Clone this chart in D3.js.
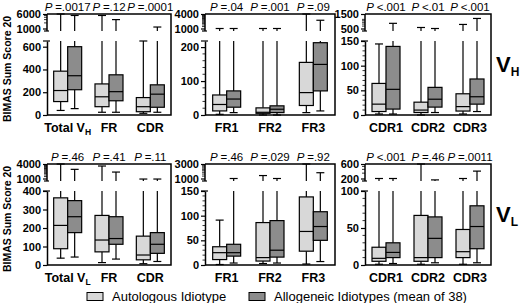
<!DOCTYPE html>
<html>
<head>
<meta charset="utf-8">
<script src="https://cdn.jsdelivr.net/npm/d3@7"></script>
<style>
body { margin: 0; background: #fff; }
svg { display: block; font-family: "Liberation Sans", Arial, sans-serif; }
</style>
</head>
<body>
<div id="chart"></div>
<script>
// categories, 3 per panel
const categories = ["Total", "FR", "CDR", "FR1", "FR2", "FR3", "CDR1", "CDR2", "CDR3"];

// box stats: [min, q1, median, q3, max]
const autoVH = [[40,118,215,385,6000],[24,73,160,273,5000],[15,29,73,153,650],
                [2,12,31,59,1000],[0,5,8,21,1000],[7,28,66,155,4000],
                [2,7,22,64,144],[0,5,10,26,540],[2,8,17,43,680]];
const alloVH = [[56,222,345,600,5000],[24,125,205,353,3000],[24,68,183,265,1200],
                [7,23,47,71,1000],[0,7,17,27,1000],[12,71,149,213,2200],
                [2,12,52,139,740],[5,16,32,56,500],[7,22,37,73,1070]];
const autoVL = [[37,88,214,363,4000],[13,71,135,268,3300],[7,28,54,156,950],
                [1,11,25,37,91],[3,8,15,86,1250],[2,28,68,138,3000],
                [1,5,9,24,200],[1,5,10,67,600],[1,10,18,48,200]];
const alloVL = [[43,175,261,348,2400],[32,112,143,261,1850],[19,63,112,175,950],
                [4,18,25,42,1000],[4,16,30,90,1000],[7,50,78,108,1550],
                [2,10,17,30,200],[3,10,36,65,180],[3,22,52,80,350]];

// P values
const pVH = ["=.0017", "=.12", "=.0001", "=.04", "=.001", "=.09", "<.001", "<.01", "<.001"];
const pVL = ["=.46", "=.41", "=.11", "=.46", "=.029", "=.92", "<.001", "=.46", "=.0011"];

// axis ticks per panel
const lowerTicksVH = [[0,200,400,600],[0,100,200],[0,50,100,150]];
const lowerTicksVL = [[0,100,200,300,400],[0,50,100,150],[0,50,100]];
const lowerMaxVH = [650, 218, 150];
const lowerMaxVL = [400, 150, 100];
const upperTicksVH = [[1000,6000],[1000,4000],[500,1500]];
const upperTicksVL = [[1000,4000],[1000,3000],[200,600]];
const minorStepVH = [0, 20, 10];
const minorStepVL = [0, 10, 10];

const width = 520, height = 303;
const lightFill = "#d8d8d8", darkFill = "#8c8c8c";

const svg = d3.select("#chart").append("svg")
    .attr("width", width)
    .attr("height", height);

const panelX = [[47,171],[205,335],[365,491]];

const rows = [
  {top: 14, auto: autoVH, allo: alloVH, p: pVH, lt: lowerTicksVH, lm: lowerMaxVH, ut: upperTicksVH, ms: minorStepVH, sub: "H"},
  {top: 164, auto: autoVL, allo: alloVL, p: pVL, lt: lowerTicksVL, lm: lowerMaxVL, ut: upperTicksVL, ms: minorStepVL, sub: "L"}
];

rows.forEach((row, r) => {
  const T0 = row.top,
      base = T0 + 101,
      lowTop = T0 + 27,
      upHi = T0,
      upLo = T0 + 14.5,
      upBottom = upLo + 2.5;

  // y axis title
  svg.append("text")
    .attr("transform", `translate(11,${T0 + 55}) rotate(-90)`)
    .attr("text-anchor", "middle")
    .attr("font-size", 10.5)
    .attr("font-weight", "bold")
    .text("BIMAS Sum Score 20");

  // V_H / V_L label
  let vl = svg.append("text")
    .attr("x", 496)
    .attr("y", T0 + 58)
    .attr("font-weight", "bold")
    .attr("font-size", 22);
  vl.append("tspan").text("V");
  vl.append("tspan").attr("font-size", 12).attr("dy", 4).text(row.sub);

  for (let p = 0; p < 3; p++) {
    const [x0, x1] = panelX[p];
    const cats = categories.slice(p * 3, p * 3 + 3);

    let x = d3.scaleBand().domain(cats).range([x0, x1]);
    let side = d3.scaleBand().domain(["auto", "allo"]).range([-14, 14]);

    let yLow = d3.scaleLinear()
      .domain([0, row.lm[p]])
      .range([base, lowTop]);
    let yUp = d3.scaleLog()
      .domain(row.ut[p])
      .range([upLo, upHi]);

    let g = svg.append("g");

    // frame: top, right, bottom
    g.append("path")
      .attr("d", `M${x0},${T0}H${x1}V${base}H${x0}`)
      .attr("fill", "none")
      .attr("stroke", "#000")
      .attr("stroke-width", 1.5);

    // lower axis
    let la = g.append("g")
      .attr("transform", `translate(${x0},0)`)
      .call(d3.axisLeft(yLow).tickValues(row.lt[p]).tickSize(4).tickSizeOuter(0).tickPadding(2));
    la.select(".domain").attr("stroke-width", 1.5);
    la.selectAll("text").attr("font-size", 11).attr("font-weight", "bold").attr("fill", "#000").attr("font-family", null);
    la.selectAll("line").attr("stroke-width", 1.2);
    // cap at top of lower segment
    g.append("line")
      .attr("x1", x0 - 4).attr("x2", x0 + 3)
      .attr("y1", lowTop).attr("y2", lowTop)
      .attr("stroke", "#000").attr("stroke-width", 1.2);
    if (row.ms[p]) {
      g.selectAll(".minor-low")
        .data(d3.range(0, row.lm[p], row.ms[p]).filter(v => !row.lt[p].includes(v)))
        .join("line")
        .attr("x1", x0 - 2.5).attr("x2", x0)
        .attr("y1", d => yLow(d)).attr("y2", d => yLow(d))
        .attr("stroke", "#000").attr("stroke-width", 0.8);
    }

    // upper (log) axis
    let ua = g.append("g")
      .attr("transform", `translate(${x0},0)`)
      .call(d3.axisLeft(yUp).tickValues(row.ut[p]).tickFormat(d3.format("d")).tickSize(4).tickSizeOuter(0).tickPadding(2));
    ua.select(".domain").remove();
    ua.selectAll("text").attr("font-size", 11).attr("font-weight", "bold").attr("fill", "#000").attr("font-family", null);
    ua.selectAll("line").attr("stroke-width", 1.2);
    g.append("line")
      .attr("x1", x0).attr("x2", x0)
      .attr("y1", T0).attr("y2", upBottom)
      .attr("stroke", "#000").attr("stroke-width", 1.5);
    g.append("line")
      .attr("x1", x0 - 3).attr("x2", x0 + 2)
      .attr("y1", upBottom).attr("y2", upBottom)
      .attr("stroke", "#000").attr("stroke-width", 1.2);
    g.selectAll(".minor-up")
      .data(yUp.ticks().filter(v => !row.ut[p].includes(v)))
      .join("line")
      .attr("x1", x0 - 3).attr("x2", x0)
      .attr("y1", d => yUp(d)).attr("y2", d => yUp(d))
      .attr("stroke", "#000").attr("stroke-width", 0.8);

    // boxes
    cats.forEach((c, i) => {
      const k = p * 3 + i;
      const cx = x(c) + x.bandwidth() / 2;
      [["auto", row.auto[k], lightFill], ["allo", row.allo[k], darkFill]].forEach(([s, v, fill]) => {
        const bx = cx + side(s), bw = side.bandwidth(), mx = bx + bw / 2;
        const [mn, q1, md, q3, mxv] = v;
        let w = g.append("g").attr("stroke", "#000").attr("stroke-width", 1.2);

        // lower whisker
        w.append("line").attr("x1", mx).attr("x2", mx).attr("y1", yLow(q1)).attr("y2", yLow(mn));
        w.append("line").attr("x1", mx - 4).attr("x2", mx + 4).attr("y1", yLow(mn)).attr("y2", yLow(mn));

        // upper whisker
        let capY;
        if (mxv <= row.lm[p]) {
          capY = yLow(mxv);
          w.append("line").attr("x1", mx).attr("x2", mx).attr("y1", yLow(q3)).attr("y2", capY);
        } else {
          w.append("line").attr("x1", mx).attr("x2", mx).attr("y1", yLow(q3)).attr("y2", lowTop);
          capY = Math.min(yUp(Math.max(mxv, row.ut[p][0] * 0.9)), upBottom);
          w.append("line").attr("x1", mx).attr("x2", mx).attr("y1", upBottom).attr("y2", capY);
        }
        w.append("line").attr("x1", mx - 4).attr("x2", mx + 4).attr("y1", capY).attr("y2", capY);

        // box
        w.append("rect")
          .attr("x", bx).attr("width", bw)
          .attr("y", yLow(q3)).attr("height", yLow(q1) - yLow(q3))
          .attr("fill", fill);
        w.append("line").attr("x1", bx).attr("x2", bx + bw).attr("y1", yLow(md)).attr("y2", yLow(md));
      });

      // P value
      let pt = svg.append("text")
        .attr("x", cx)
        .attr("y", T0 - 3.5)
        .attr("text-anchor", "middle")
        .attr("font-size", 11.5);
      pt.append("tspan").attr("font-style", "italic").text("P ");
      pt.append("tspan").text(row.p[k]);

      // category label
      let ct = svg.append("text")
        .attr("x", cx)
        .attr("y", base + 17)
        .attr("text-anchor", "middle")
        .attr("font-size", 12.5)
        .attr("font-weight", "bold");
      if (c === "Total") {
        ct.append("tspan").text("Total V");
        ct.append("tspan").attr("font-size", 8.5).attr("dy", 3).text(row.sub);
      } else {
        ct.text(c);
      }
    });
  }
});

// legend
const legendItems = ["Autologous Idiotype", "Allogeneic Idiotypes (mean of 38)"];
const legendX = [87, 249];
legendItems.forEach((t, i) => {
  svg.append("rect")
    .attr("x", legendX[i]).attr("y", 292.5)
    .attr("width", 16).attr("height", 8)
    .attr("fill", i === 0 ? lightFill : darkFill)
    .attr("stroke", "#000").attr("stroke-width", 1);
  svg.append("text")
    .attr("x", legendX[i] + 25).attr("y", 301)
    .attr("font-size", 13)
    .text(t);
});
</script>
</body>
</html>
